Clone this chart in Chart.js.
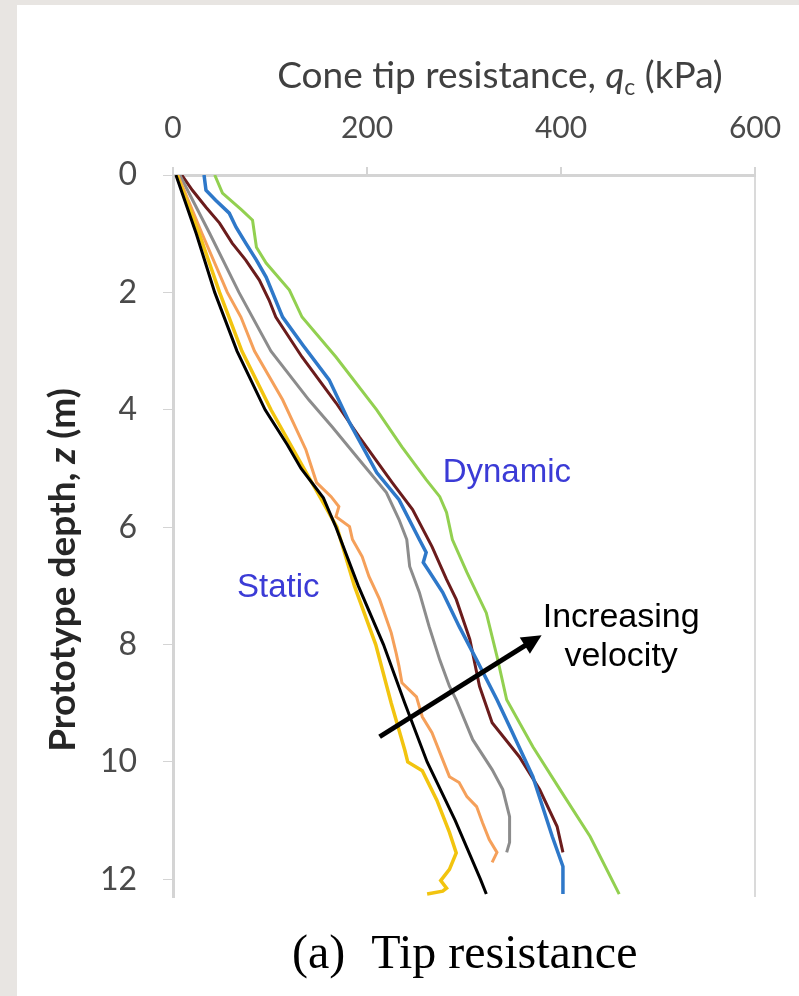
<!DOCTYPE html>
<html>
<head>
  <title>Cone tip resistance</title>
  <script src="https://cdn.jsdelivr.net/npm/chart.js@4.4.1/dist/chart.umd.min.js"></script>
  <style>
    html, body { margin: 0; padding: 0; background: #e8e5e2; }
    #wrap { position: absolute; left: 0; top: 0; width: 799px; height: 996px; }
  </style>
</head>
<body>
<div id="wrap"><canvas id="tipChart" width="799" height="996"></canvas></div>
<script>
// depth (m) and cone tip resistance qc (kPa) for each run
const depthGreen = [0, 0.31, 0.6, 0.77, 1.23, 1.5, 1.96, 2.42, 3.1, 4.0, 4.63, 5.19, 5.48, 5.75, 6.21, 6.77, 7.46, 8.2, 8.94, 9.74, 10.47, 11.27, 12.25];
const qcGreen    = [43, 51, 71, 82, 86, 96, 120, 133, 168, 210, 236, 261, 275, 282, 288, 303, 323, 334, 344, 371, 399, 430, 460];

const depthBlue = [0, 0.26, 0.43, 0.65, 0.89, 1.16, 1.45, 1.74, 2.42, 2.9, 3.49, 4.22, 5.07, 5.53, 6.21, 6.43, 6.6, 6.75, 7.11, 7.69, 8.26, 8.94, 9.5, 10.25, 11.27, 11.78, 12.25];
const qcBlue    = [32, 34, 44, 58, 65, 75, 86, 96, 113, 134, 161, 182, 210, 233, 254, 261, 258, 264, 278, 295, 313, 334, 350, 371, 391, 402, 402];

const depthMaroon = [0, 0.26, 0.55, 0.82, 1.16, 1.45, 1.79, 2.13, 2.42, 3.1, 3.88, 4.46, 5.24, 5.7, 6.33, 6.89, 7.23, 7.91, 8.71, 9.33, 9.91, 10.47, 11.1, 11.54];
const qcMaroon    = [9, 20, 34, 48, 61, 75, 89, 99, 106, 133, 168, 192, 226, 247, 267, 282, 292, 306, 316, 329, 357, 378, 396, 402];

const depthGray = [0, 1.0, 2.0, 3.0, 3.83, 4.29, 4.85, 5.41, 5.87, 6.21, 6.67, 7.11, 7.69, 8.26, 8.71, 8.94, 9.62, 10.13, 10.47, 10.93, 11.37, 11.54];
const qcGray    = [7, 38, 68, 101, 140, 164, 192, 220, 233, 241, 244, 254, 264, 275, 285, 292, 309, 329, 340, 347, 347, 344];

const depthOrange = [0, 1.0, 2.0, 2.42, 3.0, 3.83, 4.68, 5.24, 5.48, 5.65, 5.82, 5.99, 6.21, 6.5, 6.84, 7.23, 7.8, 8.14, 8.37, 8.65, 8.89, 9.23, 9.5, 9.96, 10.25, 10.35, 10.59, 10.76, 11.03, 11.32, 11.54, 11.71];
const qcOrange    = [5, 30, 56, 70, 84, 113, 137, 148, 163, 171, 168, 182, 185, 195, 202, 213, 225, 230, 233, 236, 251, 257, 267, 278, 285, 295, 303, 313, 319, 326, 334, 329];

const depthBlack = [0, 1, 2, 3, 4, 4.6, 5.0, 5.5, 6, 7, 8, 9, 10, 11, 12, 12.25];
const qcBlack    = [3, 24, 43, 66, 95, 118, 132, 155, 168, 191, 217, 239, 262, 291, 317, 323];

const depthYellow = [0, 1, 2, 3, 4, 5, 6, 7, 8, 9, 9.8, 10.0, 10.15, 10.65, 11.2, 11.55, 11.83, 12.02, 12.15, 12.2, 12.25];
const qcYellow    = [4, 27, 48, 71, 101, 135, 169, 187, 209, 225, 239, 242, 257, 272, 285, 292, 285, 276, 282, 278, 262];

const qcTicks = [0, 200, 400, 600];
const depthTicks = [0, 2, 4, 6, 8, 10, 12];

function pts(depth, qc) {
  return depth.map((d, i) => ({ x: qc[i], y: d }));
}

function line(data, color, width) {
  return {
    data: data,
    borderColor: color,
    borderWidth: width || 3,
    showLine: true,
    pointRadius: 0,
    tension: 0,
    fill: false
  };
}

// grey page with white sheet behind the figure
const sheet = {
  id: 'sheet',
  beforeDraw(chart) {
    const ctx = chart.ctx;
    ctx.save();
    ctx.fillStyle = '#e8e5e2';
    ctx.fillRect(0, 0, chart.width, chart.height);
    ctx.fillStyle = '#ffffff';
    ctx.fillRect(17, 5, chart.width - 17, chart.height - 5);
    ctx.restore();
  }
};

// draws a run of [text, font, dy] pieces centred on x
function drawPieces(ctx, pieces, cx, y) {
  let total = 0;
  pieces.forEach(p => { ctx.font = p[1]; total += ctx.measureText(p[0]).width; });
  let x = cx - total / 2;
  pieces.forEach(p => {
    ctx.font = p[1];
    ctx.fillText(p[0], x, y + (p[2] || 0));
    x += ctx.measureText(p[0]).width;
  });
}

// axis titles, labels, arrow and caption
const labels = {
  id: 'labels',
  afterDraw(chart) {
    const ctx = chart.ctx;
    const xs = chart.scales.x, ys = chart.scales.y;
    ctx.save();
    ctx.textBaseline = 'alphabetic';
    ctx.textAlign = 'left';

    // top axis title with italic q and subscript c
    ctx.fillStyle = '#404040';
    drawPieces(ctx, [
      ['Cone tip resistance, ', '37px Lato'],
      ['q', 'italic 37px Lato'],
      ['c', '23px Lato', 7],
      [' (kPa)', '37px Lato']
    ], 500, 88);

    // left axis title, rotated
    ctx.save();
    ctx.translate(75, 570);
    ctx.rotate(-Math.PI / 2);
    ctx.fillStyle = '#262626';
    drawPieces(ctx, [
      ['Prototype depth, ', 'bold 37px Lato'],
      ['z', 'bold italic 37px Lato'],
      [' (m)', 'bold 37px Lato']
    ], 0, 0);
    ctx.restore();

    // group labels
    ctx.font = '33px "Liberation Sans", Arial, sans-serif';
    ctx.fillStyle = '#3b3bd6';
    ctx.fillText('Dynamic', xs.getPixelForValue(278), ys.getPixelForValue(5.23));
    ctx.fillText('Static', xs.getPixelForValue(66), ys.getPixelForValue(7.19));

    ctx.font = '34px "Liberation Sans", Arial, sans-serif';
    ctx.fillStyle = '#000000';
    ctx.textAlign = 'center';
    ctx.fillText('Increasing', xs.getPixelForValue(462), ys.getPixelForValue(7.7));
    ctx.fillText('velocity', xs.getPixelForValue(462), ys.getPixelForValue(8.36));

    // arrow across the curves
    const x0 = xs.getPixelForValue(213), y0 = ys.getPixelForValue(9.57);
    const x1 = xs.getPixelForValue(380), y1 = ys.getPixelForValue(7.84);
    const ang = Math.atan2(y1 - y0, x1 - x0);
    const head = 22;
    ctx.strokeStyle = '#000000';
    ctx.lineWidth = 5;
    ctx.beginPath();
    ctx.moveTo(x0, y0);
    ctx.lineTo(x1 - head * 0.7 * Math.cos(ang), y1 - head * 0.7 * Math.sin(ang));
    ctx.stroke();
    ctx.beginPath();
    ctx.moveTo(x1, y1);
    ctx.lineTo(x1 - head * Math.cos(ang - 0.45), y1 - head * Math.sin(ang - 0.45));
    ctx.lineTo(x1 - head * Math.cos(ang + 0.45), y1 - head * Math.sin(ang + 0.45));
    ctx.closePath();
    ctx.fill();

    // caption
    ctx.font = '48px "Liberation Serif", "Times New Roman", serif';
    ctx.textAlign = 'left';
    ctx.fillText('(a)', 292, 968);
    ctx.fillText('Tip resistance', 292 + ctx.measureText('(a)').width + 26, 968);

    ctx.restore();
  }
};

new Chart(document.getElementById('tipChart'), {
  type: 'scatter',
  data: {
    datasets: [
      line(pts(depthBlack, qcBlack), '#000000', 3),
      line(pts(depthYellow, qcYellow), '#f2c40f', 3.5),
      line(pts(depthOrange, qcOrange), '#f5a05a', 3),
      line(pts(depthGray, qcGray), '#8c8c8c', 3),
      line(pts(depthBlue, qcBlue), '#2e78c9', 3.5),
      line(pts(depthMaroon, qcMaroon), '#6b1c1c', 3),
      line(pts(depthGreen, qcGreen), '#92d050', 3)
    ]
  },
  options: {
    responsive: false,
    animation: false,
    devicePixelRatio: 1,
    layout: { padding: { left: 0, top: 0, right: 44, bottom: 99 } },
    plugins: {
      legend: { display: false },
      tooltip: { enabled: false }
    },
    scales: {
      x: {
        type: 'linear',
        position: 'top',
        min: 0,
        max: 600,
        afterBuildTicks: s => { s.ticks = qcTicks.map(v => ({ value: v })); },
        afterFit: s => { s.height = 175; s.paddingLeft = 0; s.paddingRight = 0; },
        border: { display: true, color: '#d4d4d4', width: 3 },
        grid: {
          drawOnChartArea: true,
          color: c => (c.tick && c.tick.value === 600 ? '#dadada' : 'rgba(0,0,0,0)'),
          lineWidth: 2,
          tickLength: 8,
          tickColor: '#d4d4d4'
        },
        ticks: {
          color: '#4a4a4a',
          font: { family: 'Lato', size: 30 },
          padding: 21
        }
      },
      y: {
        type: 'linear',
        reverse: true,
        min: 0,
        max: 12.3,
        afterBuildTicks: s => { s.ticks = depthTicks.map(v => ({ value: v })); },
        afterFit: s => { s.width = 173; s.paddingTop = 0; s.paddingBottom = 0; },
        border: { display: true, color: '#d4d4d4', width: 3 },
        grid: {
          drawOnChartArea: false,
          tickLength: 10,
          tickColor: '#d4d4d4'
        },
        ticks: {
          color: '#4a4a4a',
          font: { family: 'Lato', size: 32 },
          padding: 26
        }
      }
    }
  },
  plugins: [sheet, labels]
});
</script>
</body>
</html>
